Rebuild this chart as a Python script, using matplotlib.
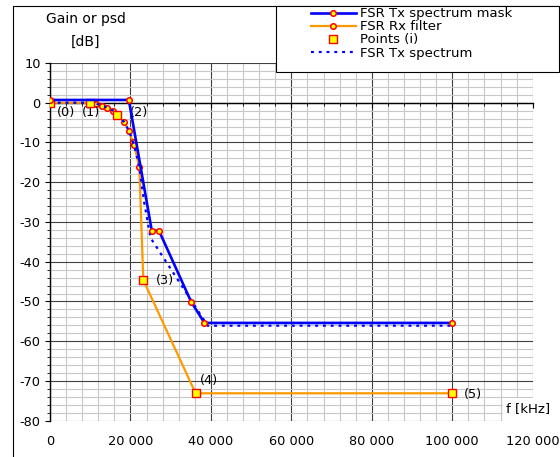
import matplotlib.pyplot as plt
from matplotlib.lines import Line2D
from matplotlib.patches import Rectangle
from matplotlib.ticker import MultipleLocator, FuncFormatter

plt.rcParams['font.family'] = ['DejaVu Sans']
plt.rcParams['font.size'] = 9.3
plt.rcParams['axes.unicode_minus'] = False

# FSR Tx spectrum mask
mask_f = [0, 19600, 25300, 27100, 35100, 38400, 100000]
mask_db = [0.7, 0.7, -32.2, -32.2, -50.1, -55.4, -55.4]

# FSR Rx filter
rx_f = [0, 10000, 11400, 13000, 14100, 15700, 16700, 18400, 19600, 20600, 20900,
        22200, 23200, 36200, 100000]
rx_db = [0, 0, -0.25, -0.7, -1.2, -2.0, -3.0, -4.8, -7.0, -9.8, -10.6,
         -16.1, -44.6, -73.1, -73.1]

# Points (i)
pts_f = [0, 10000, 16700, 23200, 36200, 100000]
pts_db = [0, 0, -3.0, -44.6, -73.1, -73.1]

# FSR Tx spectrum
tx_f = [0, 10000, 11400, 13000, 14100, 15700, 16700, 18400, 19600, 20900, 22200,
        23400, 25000, 39200, 100000]
tx_db = [0, 0, -0.25, -0.7, -1.2, -2.0, -3.0, -4.8, -7.0, -10.6, -16.1,
         -25, -34, -56.1, -56.1]

# point labels
ann_text = ['(0)', '(1)', '(2)', '(3)', '(4)', '(5)']
ann_f = [1700, 7900, 19900, 26300, 37300, 102900]
ann_db = [-2.4, -2.4, -2.4, -44.8, -70.0, -73.3]

W, H = 560, 457
fig = plt.figure(figsize=(W / 100, H / 100), dpi=100)
ax = fig.add_axes([50 / W, 1 - 420.7 / H, 482.7 / W, 357.7 / H])

ax.set_xlim(0, 120000)
ax.set_ylim(-80, 10)
ax.xaxis.set_major_locator(MultipleLocator(20000))
ax.xaxis.set_minor_locator(MultipleLocator(4000))
ax.yaxis.set_major_locator(MultipleLocator(10))
ax.yaxis.set_minor_locator(MultipleLocator(2))
ax.grid(which='minor', color='#c8c8c8', lw=0.8)
ax.grid(which='major', color='#404040', lw=0.8)
ax.set_axisbelow(True)

for s in ['top', 'right']:
    ax.spines[s].set_visible(False)
ax.spines['left'].set_linewidth(1.0)
ax.spines['bottom'].set_position(('data', 0))
ax.spines['bottom'].set_linewidth(1.0)
ax.tick_params(axis='x', which='both', direction='out', labelbottom=False)
ax.tick_params(axis='x', which='major', length=3.5)
ax.tick_params(axis='x', which='minor', length=2.5)
ax.tick_params(axis='y', which='major', length=3.6, pad=3.0)
ax.tick_params(axis='y', which='minor', length=2.4)

sec = ax.secondary_xaxis('bottom')
sec.set_xticks(range(0, 120001, 20000))
sec.xaxis.set_major_formatter(FuncFormatter(lambda v, p: f"{int(v):,}".replace(',', ' ')))
sec.tick_params(length=0, pad=10.5)
sec.spines['bottom'].set_visible(False)

mk = dict(marker='o', ms=4.0, mfc='yellow', mec='red', mew=1.1)
ax.plot(rx_f, rx_db, color='#ff9900', lw=1.6, zorder=3, **mk)
ax.plot(tx_f, tx_db, color='blue', lw=1.6, ls=(0, (1.3, 2.2)), dash_capstyle='butt', zorder=4)
ax.plot(pts_f, pts_db, ls='none', marker='s', ms=5.3, mfc='yellow', mec='red', mew=1.0, zorder=5)
ax.plot(mask_f, mask_db, color='blue', lw=1.9, zorder=6, **mk)

for t, fx, fy in zip(ann_text, ann_f, ann_db):
    ax.text(fx, fy, t, ha='left', va='center', fontsize=9.3)

# outer chart frame (left and top edges)
fig.patches.append(Rectangle((12.7 / W, -0.05), 1.1, 1 - 6 / H + 0.05, transform=fig.transFigure,
                             fill=False, ec='black', lw=0.8))

# legend box
fig.patches.append(Rectangle((276 / W, 1 - 71.7 / H), 283 / W, 65.7 / H, transform=fig.transFigure,
                             fc='white', ec='black', lw=0.8, zorder=1))
handles = [
    Line2D([], [], color='blue', lw=1.9, **mk),
    Line2D([], [], color='#ff9900', lw=1.6, **mk),
    Line2D([], [], ls='none', marker='s', ms=5.3, mfc='yellow', mec='red', mew=1.0),
    Line2D([], [], color='blue', lw=1.6, ls=(0, (1.3, 2.2)), dash_capstyle='butt'),
]
labels = ['FSR Tx spectrum mask', 'FSR Rx filter', 'Points (i)', 'FSR Tx spectrum']
fig.legend(handles, labels, loc='upper left', bbox_to_anchor=(311 / W, 1 - 7.5 / H),
           frameon=False, borderpad=0, borderaxespad=0, handlelength=3.4,
           handletextpad=0.28, labelspacing=0.0, fontsize=9.5)

# axis titles
fig.text(85.5 / W, 1 - 19.5 / H, 'Gain or psd', ha='center', va='center', fontsize=10)
fig.text(85.5 / W, 1 - 41.5 / H, '[dB]', ha='center', va='center', fontsize=10)
fig.patches.append(Rectangle((503 / W, 1 - 424 / H), 53 / W, 26 / H, transform=fig.transFigure,
                             fc='white', ec='none', zorder=1))
fig.text(506 / W, 1 - 408.3 / H, 'f [kHz]', ha='left', va='center', fontsize=9.5)

fig.savefig('out.png', dpi=100)
